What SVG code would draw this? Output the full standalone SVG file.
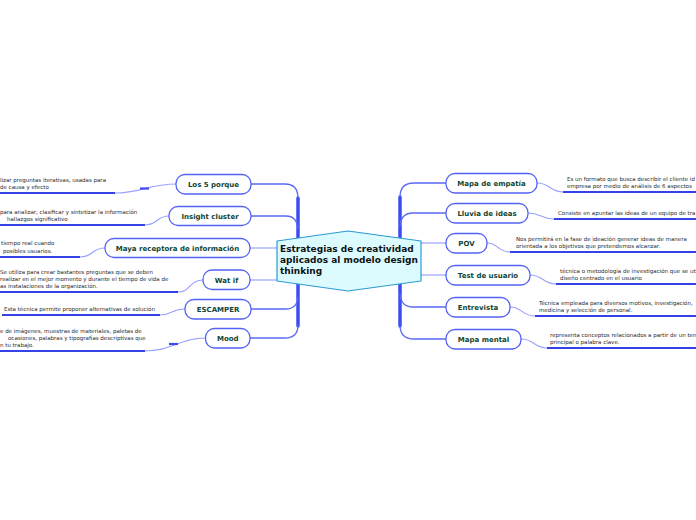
<svg xmlns="http://www.w3.org/2000/svg" width="696" height="520" viewBox="0 0 696 520">
<style>
.bg{fill:#ffffff}
.trunk{fill:none;stroke:#3d4cf0;stroke-width:3.5;stroke-linecap:round}
.br{fill:none;stroke:#5a68f5;stroke-width:1.3}
.brl{fill:none;stroke:#9aa4ff;stroke-width:1.2}
.ul{fill:none;stroke:#3442e6;stroke-width:2}
.uc{fill:none;stroke:#9aa2ff;stroke-width:1.2}
.mk{fill:none;stroke:#3c4cf0;stroke-width:2.2}
.node rect{fill:#ffffff;stroke:#5462f5;stroke-width:1.3}
.node text{font-family:"DejaVu Sans",Verdana,sans-serif;font-weight:bold;font-size:7px;fill:#0f4535;text-anchor:middle}
.desc{font-family:"DejaVu Sans",Verdana,sans-serif;font-size:5.5px;fill:#2a2a2a}
.ctext{font-family:"DejaVu Sans",Verdana,sans-serif;font-weight:bold;font-size:9px;fill:#111111}
</style>
<rect class="bg" x="0" y="0" width="696" height="520"/>
<g id="connectors">
  <path class="trunk" d="M298,198 V326"/>
  <path class="br" d="M251,184 H285 Q298,184 298,198"/>
  <path class="br" d="M251,216 H286 Q297,216 298,229"/>
  <path class="brl" d="M250,248 H277"/>
  <path class="brl" d="M250,280 H277"/>
  <path class="br" d="M251,309 H286 Q297,309 298,297"/>
  <path class="br" d="M250,338 H285 Q298,338 298,325"/>
  <path class="trunk" d="M400,197 V326"/>
  <path class="br" d="M446,183 H414 Q400,183 400,197"/>
  <path class="br" d="M446,213 H413 Q401,213 400,226"/>
  <path class="brl" d="M421,243 H446"/>
  <path class="brl" d="M421,275 H446"/>
  <path class="br" d="M446,307 H413 Q401,307 400,294"/>
  <path class="br" d="M446,339 H414 Q400,339 400,325"/>
  <path class="uc" d="M115,193 C140,193 150,184 176,184"/>
  <path class="ul" d="M0,193 H115"/>
  <path class="mk" d="M140,188.5 H149"/>
  <path class="uc" d="M145,225 C158,225 156,216 169,216"/>
  <path class="ul" d="M0,225 H145"/>
  <path class="uc" d="M80,257 C94,257 91,248 105,248"/>
  <path class="ul" d="M0,257 H80"/>
  <path class="uc" d="M178,292 C191,292 189,280 203,280"/>
  <path class="ul" d="M0,292 H178"/>
  <path class="uc" d="M160,315 C173,315 171,309 185,309"/>
  <path class="ul" d="M2,315 H160"/>
  <path class="uc" d="M145,351 C172,351 180,338 205,338"/>
  <path class="ul" d="M0,351 H145"/>
  <path class="mk" d="M169,344 H178"/>
  <path class="uc" d="M537,183 C550,183 550,192 563,192"/>
  <path class="ul" d="M563,192 H696"/>
  <path class="uc" d="M528,213 C541,213 541,219 554,219"/>
  <path class="ul" d="M554,219 H696"/>
  <path class="uc" d="M487,243 C498,243 498,252 510,252"/>
  <path class="ul" d="M510,252 H696"/>
  <path class="uc" d="M530,275 C543,275 543,284 556,284"/>
  <path class="ul" d="M556,284 H696"/>
  <path class="uc" d="M510,307 C522,307 522,316 535,316"/>
  <path class="ul" d="M535,316 H696"/>
  <path class="uc" d="M521,339 C534,339 534,348 547,348"/>
  <path class="ul" d="M547,348 H696"/>
</g>
<g id="center">
  <polygon points="277,241 348,231 421,241 421,281 348,291 277,281" fill="#dbfbff" stroke="#2d9ad4" stroke-width="1.2" stroke-linejoin="round"/>
  <text class="ctext" x="280" y="252">Estrategias de creatividad</text>
  <text class="ctext" x="280" y="263">aplicados al modelo design</text>
  <text class="ctext" x="280" y="274">thinking</text>
</g>
<g id="n-los5" class="node"><rect x="176" y="174.5" width="75" height="19.5" rx="9"/><text x="213.5" y="187">Los 5 porque</text></g>
<g id="n-insight" class="node"><rect x="169" y="206.5" width="82" height="19" rx="9"/><text x="210" y="219">Insight cluster</text></g>
<g id="n-maya" class="node"><rect x="105" y="238.5" width="145" height="19" rx="9"/><text x="177.5" y="251">Maya receptora de información</text></g>
<g id="n-watif" class="node"><rect x="203" y="270" width="47" height="19.5" rx="9"/><text x="226.5" y="282.5">Wat if</text></g>
<g id="n-escamper" class="node"><rect x="185" y="299.5" width="66" height="19.5" rx="9"/><text x="218" y="312">ESCAMPER</text></g>
<g id="n-mood" class="node"><rect x="205.5" y="328.5" width="44.5" height="19.5" rx="9"/><text x="227.8" y="341">Mood</text></g>
<g id="n-empatia" class="node"><rect x="446" y="173.5" width="91" height="19.5" rx="9"/><text x="491.5" y="186">Mapa de empatía</text></g>
<g id="n-lluvia" class="node"><rect x="446" y="203.5" width="82" height="19.5" rx="9"/><text x="487" y="216">Lluvia de ideas</text></g>
<g id="n-pov" class="node"><rect x="446" y="233.5" width="41" height="19.5" rx="9"/><text x="466.5" y="246">POV</text></g>
<g id="n-test" class="node"><rect x="446" y="265.5" width="84" height="19.5" rx="9"/><text x="488" y="278">Test de usuario</text></g>
<g id="n-entrevista" class="node"><rect x="446" y="297.5" width="64" height="19.5" rx="9"/><text x="478" y="310">Entrevista</text></g>
<g id="n-mental" class="node"><rect x="446" y="329.5" width="75" height="19.5" rx="9"/><text x="483.5" y="342">Mapa mental</text></g>
<g id="descriptions">
  <text class="desc" x="0" y="182">lizar preguntas iterativas, usadas para</text>
  <text class="desc" x="0" y="189">de causa y efecto</text>
  <text class="desc" x="0" y="214">para analizar, clasificar y sintetizar la información</text>
  <text class="desc" x="7" y="221">hallazgos significativo</text>
  <text class="desc" x="1" y="245">tiempo real cuando</text>
  <text class="desc" x="3" y="253">posibles usuarios.</text>
  <text class="desc" x="0" y="274">Se utiliza para crear bastantes preguntas que se deben</text>
  <text class="desc" x="0" y="281">realizar en el mejor momento y durante el tiempo de vida de</text>
  <text class="desc" x="0" y="288">as instalaciones de la organización.</text>
  <text class="desc" x="4" y="311">Esta técnica permite proponer alternativas de solución</text>
  <text class="desc" x="0" y="333">e de imágenes, muestras de materiales, paletas de</text>
  <text class="desc" x="8" y="340">ocasiones, palabras y tipografías descriptivas que</text>
  <text class="desc" x="0" y="347">n tu trabajo.</text>
  <text class="desc" x="567" y="181">Es un formato que busca describir el cliente id</text>
  <text class="desc" x="567" y="188">empresa por medio de análisis de 6 aspectos</text>
  <text class="desc" x="558" y="215">Consiste en apuntar las ideas de un equipo de tra</text>
  <text class="desc" x="516" y="241">Nos permitirá en la fase de ideación generar ideas de manera</text>
  <text class="desc" x="516" y="248">orientada a los objetivos que pretendemos alcanzar.</text>
  <text class="desc" x="560" y="273">técnica o metodología de investigación que se uti</text>
  <text class="desc" x="560" y="280">diseño centrado en el usuario</text>
  <text class="desc" x="539" y="305">Técnica empleada para diversos motivos, investigación,</text>
  <text class="desc" x="539" y="312">medicina y selección de personal.</text>
  <text class="desc" x="550" y="337">representa conceptos relacionados a partir de un ten</text>
  <text class="desc" x="550" y="344">principal o palabra clave.</text>
</g>
</svg>
